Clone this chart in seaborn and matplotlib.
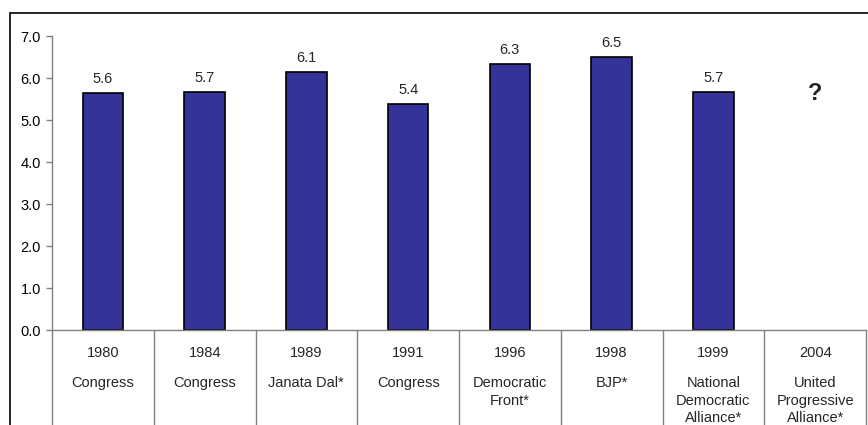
import numpy as np
import pandas as pd
import matplotlib
matplotlib.use('Agg')
import matplotlib.pyplot as plt
import matplotlib.transforms as mtransforms
from matplotlib.patches import Rectangle
from matplotlib.ticker import FormatStrFormatter
import seaborn as sns

years = ['1980', '1984', '1989', '1991', '1996', '1998', '1999', '2004']
parties = ['Congress', 'Congress', 'Janata Dal*', 'Congress',
           'Democratic\nFront*', 'BJP*', 'National\nDemocratic\nAlliance*',
           'United\nProgressive\nAlliance*']
values = [5.64, 5.67, 6.14, 5.38, 6.33, 6.50, 5.67, np.nan]
unknown_label = '?'
unknown_height = 5.35

sns.set_style('white')
plt.rcParams['font.family'] = ['Liberation Sans', 'DejaVu Sans']

df = pd.DataFrame({'year': years, 'value': values})

fig = plt.figure(figsize=(8.68, 4.25), dpi=100)
ax = fig.add_axes([52 / 868, 95 / 425, (866 - 52) / 868, 294 / 425])

sns.barplot(data=df, x='year', y='value', order=years, color='#333399',
            saturation=1, width=0.4, edgecolor='black', linewidth=1.2, ax=ax)

ax.set_xlim(-0.5, len(years) - 0.5)
ax.set_ylim(0, 7)
ax.set_yticks(np.arange(0, 7.1, 1.0))
ax.yaxis.set_major_formatter(FormatStrFormatter('%.1f'))
ax.tick_params(axis='y', left=True, length=4, width=1, color='#808080',
               labelsize=10.5, pad=4, labelcolor='black')
ax.tick_params(axis='x', bottom=False, labelbottom=False)
ax.set_xlabel('')
ax.set_ylabel('')
for side in ['top', 'right']:
    ax.spines[side].set_visible(False)
for side in ['left', 'bottom']:
    ax.spines[side].set_color('#808080')
    ax.spines[side].set_linewidth(1)

# value labels
for i, v in enumerate(values):
    if np.isnan(v):
        ax.text(i, unknown_height, unknown_label, ha='center', va='bottom',
                fontsize=17, fontweight='bold')
    else:
        ax.annotate(f'{v:.1f}', (i, v), xytext=(0, 5), textcoords='offset points',
                    ha='center', va='bottom', fontsize=10.5)

# table under the axis
trans = mtransforms.blended_transform_factory(ax.transData, ax.transAxes)
for i in range(len(years) + 1):
    ax.plot([i - 0.5, i - 0.5], [0, -0.4], transform=trans, color='#808080',
            lw=1, clip_on=False)
for i, (yr, pt) in enumerate(zip(years, parties)):
    ax.text(i, -0.092, yr, transform=trans, ha='center', va='baseline', fontsize=10.5)
    ax.text(i, -0.157, pt, transform=trans, ha='center', va='top',
            fontsize=10.5, linespacing=1.32)

# outer border
fig.patches.append(Rectangle((10 / 868, -0.1), 1.0, 1 - 12.5 / 425 + 0.1,
                             transform=fig.transFigure, fill=False,
                             edgecolor='black', lw=1.2))

fig.savefig('out.png', dpi=100)
